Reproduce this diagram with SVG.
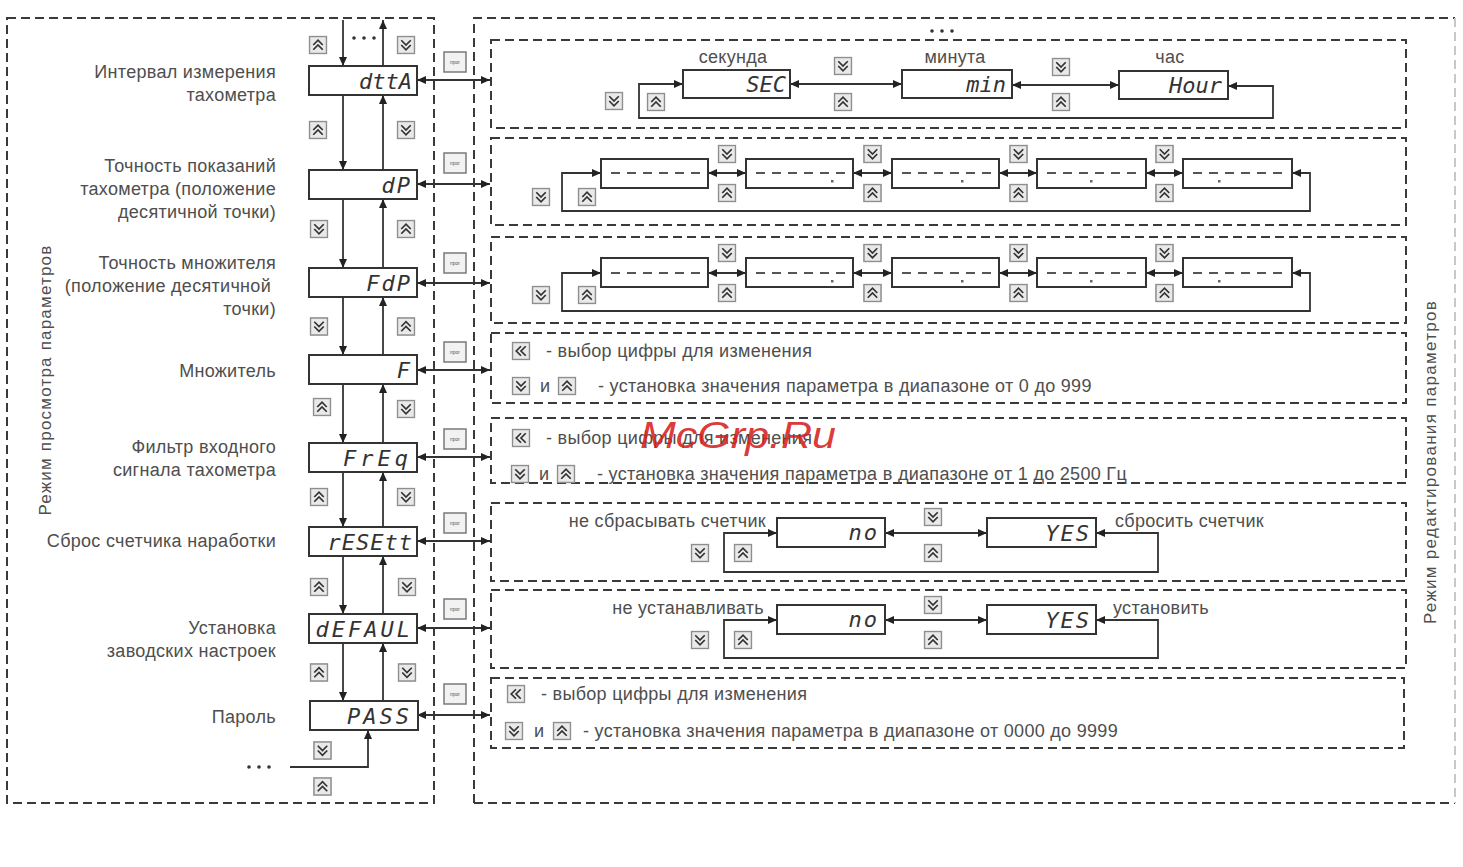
<svg xmlns="http://www.w3.org/2000/svg" xmlns:xlink="http://www.w3.org/1999/xlink" width="1463" height="867" viewBox="0 0 1463 867">
<style>
.bg{fill:#fff}
.dash{fill:none;stroke:#3a3a3a;stroke-width:2;stroke-dasharray:9 5}
.dashl{fill:none;stroke:#c8c8c8;stroke-width:2;stroke-dasharray:9 5}
.box{fill:#fff;stroke:#333;stroke-width:2}
.ln{fill:none;stroke:#333;stroke-width:1.8}
.lbl{font-family:"Liberation Sans",Arial,sans-serif;font-size:18px;letter-spacing:0.3px;fill:#4e4e4e}
.sm{font-family:"Liberation Sans",Arial,sans-serif;font-size:17px;fill:#4e4e4e}
.disp{font-family:"DejaVu Sans Mono","Liberation Mono",monospace;font-style:italic;font-size:22px;fill:#333;letter-spacing:2px}
.dd{fill:none;stroke:#555;stroke-width:2.2;stroke-dasharray:9 7}
.dot{fill:#666}
</style>
<defs>
<marker id="ah" viewBox="0 0 9 8" refX="9" refY="4" markerWidth="9" markerHeight="8" markerUnits="userSpaceOnUse" orient="auto-start-reverse"><path d="M0,0 L9,4 L0,8 z" fill="#222"/></marker>
<symbol id="up" viewBox="0 0 20 20"><rect x="1" y="1" width="18" height="18" fill="#e9e9e9" stroke="#8e8e8e" stroke-width="1.6"/><path d="M5 10 L10 5 L15 10 M5 15 L10 10 L15 15" fill="none" stroke="#333" stroke-width="1.8"/></symbol>
<symbol id="dn" viewBox="0 0 20 20"><rect x="1" y="1" width="18" height="18" fill="#e9e9e9" stroke="#8e8e8e" stroke-width="1.6"/><path d="M5 5 L10 10 L15 5 M5 10 L10 15 L15 10" fill="none" stroke="#333" stroke-width="1.8"/></symbol>
<symbol id="lt" viewBox="0 0 20 20"><rect x="1" y="1" width="18" height="18" fill="#e9e9e9" stroke="#8e8e8e" stroke-width="1.6"/><path d="M10 5 L5 10 L10 15 M15 5 L10 10 L15 15" fill="none" stroke="#333" stroke-width="1.8"/></symbol>
<symbol id="prog" viewBox="0 0 24 22"><rect x="1" y="1" width="22" height="20" fill="#f2f2f2" stroke="#7a7a7a" stroke-width="1.5"/><text x="12" y="13" text-anchor="middle" font-family="Liberation Sans,sans-serif" font-size="5" fill="#555">прог</text></symbol>
</defs>
<rect class="bg" width="1463" height="867"/>

<!-- frames -->
<g id="frames">
<rect class="dash" x="7" y="18" width="427" height="785"/>
<path class="dash" d="M474,803 V18 H1455"/>
<path class="dash" d="M474,803 H1455"/>
<path class="dashl" d="M1455,18 V803"/>
<rect class="dash" x="491" y="40" width="915" height="88"/>
<rect class="dash" x="491" y="138" width="915" height="87"/>
<rect class="dash" x="491" y="237" width="915" height="86"/>
<rect class="dash" x="491" y="333" width="915" height="70"/>
<rect class="dash" x="491" y="418" width="915" height="65"/>
<rect class="dash" x="491" y="503" width="915" height="78"/>
<rect class="dash" x="491" y="590" width="915" height="78"/>
<rect class="dash" x="491" y="678" width="913" height="70"/>
<text class="sm" transform="translate(51,380) rotate(-90)" text-anchor="middle" style="letter-spacing:1.2px">Режим просмотра параметров</text>
<text class="sm" transform="translate(1436,462) rotate(-90)" text-anchor="middle" style="letter-spacing:1.3px">Режим редактирования параметров</text>
<g fill="#333"><circle cx="354" cy="38" r="1.8"/><circle cx="364" cy="38" r="1.8"/><circle cx="374" cy="38" r="1.8"/><circle cx="932" cy="31" r="1.8"/><circle cx="942" cy="31" r="1.8"/><circle cx="952" cy="31" r="1.8"/><circle cx="249" cy="767" r="1.8"/><circle cx="259" cy="767" r="1.8"/><circle cx="269" cy="767" r="1.8"/></g>
</g>

<!-- connectors -->
<g id="connectors">
<g class="ln" marker-end="url(#ah)">
<path d="M343,20 V66"/><path d="M383,66 V20"/>
<path d="M343,95 V170"/><path d="M383,170 V95"/>
<path d="M343,199 V268"/><path d="M383,268 V199"/>
<path d="M343,297 V355"/><path d="M383,355 V297"/>
<path d="M343,384 V443"/><path d="M383,443 V384"/>
<path d="M343,472 V527"/><path d="M383,527 V472"/>
<path d="M343,556 V614"/><path d="M383,614 V556"/>
<path d="M343,643 V701"/><path d="M383,701 V643"/>
<path d="M290,767 H368 V730"/>
</g>
<g class="ln" marker-start="url(#ah)" marker-end="url(#ah)">
<path d="M417,80 H490"/><path d="M417,184 H490"/><path d="M417,283 H490"/><path d="M417,370 H490"/>
<path d="M417,457 H490"/><path d="M417,541 H490"/><path d="M417,628 H490"/><path d="M417,715 H490"/>
<path d="M790,84 H902"/><path d="M1012,85 H1119"/>
<path d="M683,84 H639 V118 H1273 V86 H1228"/>
<path d="M708,173 H746"/><path d="M853,173 H892"/><path d="M999,173 H1037"/><path d="M1146,173 H1183"/>
<path d="M601,173 H562 V211 H1310 V173 H1292"/>
<path d="M708,273 H746"/><path d="M853,273 H892"/><path d="M999,273 H1037"/><path d="M1146,273 H1183"/>
<path d="M601,273 H562 V311 H1310 V273 H1292"/>
<path d="M885,533 H987"/><path d="M777,533 H724 V572 H1158 V533 H1096"/>
<path d="M885,620 H987"/><path d="M777,620 H724 V658 H1158 V620 H1096"/>
</g>
</g>

<!-- left column nodes -->
<g id="n-dtta"><rect class="box" x="309" y="66" width="108" height="29"/><text class="disp" x="412" y="89" text-anchor="end" style="letter-spacing:0">dttA</text>
<text class="lbl" x="276" y="78" text-anchor="end">Интервал измерения</text><text class="lbl" x="276" y="101" text-anchor="end">тахометра</text></g>
<g id="n-dp"><rect class="box" x="309" y="170" width="108" height="29"/><text class="disp" x="412" y="193" text-anchor="end">dP</text>
<text class="lbl" x="276" y="172" text-anchor="end">Точность показаний</text><text class="lbl" x="276" y="195" text-anchor="end">тахометра (положение</text><text class="lbl" x="276" y="218" text-anchor="end">десятичной точки)</text></g>
<g id="n-fdp"><rect class="box" x="309" y="268" width="108" height="29"/><text class="disp" x="412" y="291" text-anchor="end">FdP</text>
<text class="lbl" x="276" y="269" text-anchor="end">Точность множителя</text><text class="lbl" x="271" y="292" text-anchor="end">(положение десятичной</text><text class="lbl" x="276" y="315" text-anchor="end">точки)</text></g>
<g id="n-f"><rect class="box" x="309" y="355" width="108" height="29"/><text class="disp" x="412" y="378" text-anchor="end">F</text>
<text class="lbl" x="276" y="377" text-anchor="end">Множитель</text></g>
<g id="n-freq"><rect class="box" x="309" y="443" width="108" height="29"/><text class="disp" x="412" y="466" text-anchor="end" style="letter-spacing:4px">FrEq</text>
<text class="lbl" x="276" y="453" text-anchor="end">Фильтр входного</text><text class="lbl" x="276" y="476" text-anchor="end">сигнала тахометра</text></g>
<g id="n-resett"><rect class="box" x="309" y="527" width="108" height="29"/><text class="disp" x="413" y="550" text-anchor="end" style="letter-spacing:1px">rESEtt</text>
<text class="lbl" x="276" y="547" text-anchor="end">Сброс счетчика наработки</text></g>
<g id="n-defaul"><rect class="box" x="309" y="614" width="108" height="29"/><text class="disp" x="413" y="637" text-anchor="end" style="letter-spacing:3px">dEFAUL</text>
<text class="lbl" x="276" y="634" text-anchor="end">Установка</text><text class="lbl" x="276" y="657" text-anchor="end">заводских настроек</text></g>
<g id="n-pass"><rect class="box" x="310" y="701" width="108" height="29"/><text class="disp" x="412" y="724" text-anchor="end" style="letter-spacing:3px">PASS</text>
<text class="lbl" x="276" y="723" text-anchor="end">Пароль</text></g>

<!-- left column buttons -->
<g id="left-buttons">
<use href="#up" x="308.5" y="35.5" width="19" height="19"/><use href="#dn" x="396.5" y="35.5" width="19" height="19"/>
<use href="#up" x="308.5" y="120.5" width="19" height="19"/><use href="#dn" x="396.5" y="120.5" width="19" height="19"/>
<use href="#dn" x="309.5" y="219.5" width="19" height="19"/><use href="#up" x="396.5" y="219.5" width="19" height="19"/>
<use href="#dn" x="309.5" y="317" width="19" height="19"/><use href="#up" x="396.5" y="317" width="19" height="19"/>
<use href="#up" x="312.5" y="397.5" width="19" height="19"/><use href="#dn" x="396.5" y="399.5" width="19" height="19"/>
<use href="#up" x="309.5" y="487.5" width="19" height="19"/><use href="#dn" x="396.5" y="487.5" width="19" height="19"/>
<use href="#up" x="309.5" y="577.5" width="19" height="19"/><use href="#dn" x="397.5" y="577.5" width="19" height="19"/>
<use href="#up" x="309.5" y="663" width="19" height="19"/><use href="#dn" x="397.5" y="663" width="19" height="19"/>
<use href="#dn" x="313" y="741" width="19" height="19"/><use href="#up" x="313" y="777" width="19" height="19"/>
</g>
<g id="prog-buttons">
<use href="#prog" x="443" y="51" width="24" height="22"/>
<use href="#prog" x="443" y="152" width="24" height="22"/>
<use href="#prog" x="443" y="252" width="24" height="22"/>
<use href="#prog" x="443" y="341" width="24" height="22"/>
<use href="#prog" x="443" y="428" width="24" height="22"/>
<use href="#prog" x="443" y="512" width="24" height="22"/>
<use href="#prog" x="443" y="598" width="24" height="22"/>
<use href="#prog" x="443" y="683" width="24" height="22"/>
</g>

<!-- row 1: time units -->
<g id="r1-sec"><rect class="box" x="683" y="70" width="107" height="28"/><text class="disp" x="786" y="92" text-anchor="end" style="letter-spacing:0">SEC</text><text class="lbl" x="733" y="63" text-anchor="middle">секунда</text></g>
<g id="r1-min"><rect class="box" x="902" y="70" width="110" height="28"/><text class="disp" x="1006" y="92" text-anchor="end" style="letter-spacing:0">min</text><text class="lbl" x="955" y="63" text-anchor="middle">минута</text></g>
<g id="r1-hour"><rect class="box" x="1119" y="71" width="109" height="28"/><text class="disp" x="1222" y="93" text-anchor="end" style="letter-spacing:0">Hour</text><text class="lbl" x="1170" y="63" text-anchor="middle">час</text></g>
<g id="r1-buttons">
<use href="#dn" x="604.5" y="91.5" width="19" height="19"/><use href="#up" x="646.5" y="92.5" width="19" height="19"/>
<use href="#dn" x="833.5" y="56.5" width="19" height="19"/><use href="#up" x="833.5" y="92.5" width="19" height="19"/>
<use href="#dn" x="1051.5" y="57.5" width="19" height="19"/><use href="#up" x="1051.5" y="92.5" width="19" height="19"/>
</g>

<!-- row 2: dP choices -->
<g id="r2">
<g id="r2-b1"><rect class="box" x="601" y="159" width="107" height="29"/><line class="dd" x1="611" y1="173" x2="700" y2="173"/></g>
<g id="r2-b2"><rect class="box" x="746" y="159" width="107" height="29"/><line class="dd" x1="756" y1="173" x2="845" y2="173"/><rect class="dot" x="831" y="180" width="2.5" height="2.5"/></g>
<g id="r2-b3"><rect class="box" x="892" y="159" width="107" height="29"/><line class="dd" x1="902" y1="173" x2="991" y2="173"/><rect class="dot" x="961" y="180" width="2.5" height="2.5"/></g>
<g id="r2-b4"><rect class="box" x="1037" y="159" width="109" height="29"/><line class="dd" x1="1047" y1="173" x2="1136" y2="173"/><rect class="dot" x="1090" y="180" width="2.5" height="2.5"/></g>
<g id="r2-b5"><rect class="box" x="1183" y="159" width="109" height="29"/><line class="dd" x1="1193" y1="173" x2="1282" y2="173"/><rect class="dot" x="1218" y="180" width="2.5" height="2.5"/></g>
<use href="#dn" x="531.5" y="187.5" width="19" height="19"/><use href="#up" x="577.5" y="187.5" width="19" height="19"/>
<use href="#dn" x="717.5" y="144.5" width="19" height="19"/><use href="#up" x="717.5" y="183.5" width="19" height="19"/>
<use href="#dn" x="863" y="144.5" width="19" height="19"/><use href="#up" x="863" y="183.5" width="19" height="19"/>
<use href="#dn" x="1009" y="144.5" width="19" height="19"/><use href="#up" x="1009" y="183.5" width="19" height="19"/>
<use href="#dn" x="1155" y="144.5" width="19" height="19"/><use href="#up" x="1155" y="183.5" width="19" height="19"/>
</g>

<!-- row 3: FdP choices -->
<g id="r3">
<g id="r3-b1"><rect class="box" x="601" y="258" width="107" height="29"/><line class="dd" x1="611" y1="273" x2="700" y2="273"/></g>
<g id="r3-b2"><rect class="box" x="746" y="258" width="107" height="29"/><line class="dd" x1="756" y1="273" x2="845" y2="273"/><rect class="dot" x="831" y="280" width="2.5" height="2.5"/></g>
<g id="r3-b3"><rect class="box" x="892" y="258" width="107" height="29"/><line class="dd" x1="902" y1="273" x2="991" y2="273"/><rect class="dot" x="961" y="280" width="2.5" height="2.5"/></g>
<g id="r3-b4"><rect class="box" x="1037" y="258" width="109" height="29"/><line class="dd" x1="1047" y1="273" x2="1136" y2="273"/><rect class="dot" x="1090" y="280" width="2.5" height="2.5"/></g>
<g id="r3-b5"><rect class="box" x="1183" y="258" width="109" height="29"/><line class="dd" x1="1193" y1="273" x2="1282" y2="273"/><rect class="dot" x="1218" y="280" width="2.5" height="2.5"/></g>
<use href="#dn" x="531.5" y="285.5" width="19" height="19"/><use href="#up" x="577.5" y="285.5" width="19" height="19"/>
<use href="#dn" x="717.5" y="243.5" width="19" height="19"/><use href="#up" x="717.5" y="283.5" width="19" height="19"/>
<use href="#dn" x="863" y="243.5" width="19" height="19"/><use href="#up" x="863" y="283.5" width="19" height="19"/>
<use href="#dn" x="1009" y="243.5" width="19" height="19"/><use href="#up" x="1009" y="283.5" width="19" height="19"/>
<use href="#dn" x="1155" y="243.5" width="19" height="19"/><use href="#up" x="1155" y="283.5" width="19" height="19"/>
</g>

<!-- row 4: F -->
<g id="r4">
<use href="#lt" x="511.5" y="341.5" width="19" height="19"/><text class="lbl" x="546" y="357">- выбор цифры для изменения</text>
<use href="#dn" x="511.5" y="376.5" width="19" height="19"/><text class="lbl" x="540" y="392">и</text><use href="#up" x="557.5" y="376.5" width="19" height="19"/>
<text class="lbl" x="598" y="392">- установка значения параметра в диапазоне от 0 до 999</text>
</g>
<!-- row 5: FrEq -->
<g id="r5">
<use href="#lt" x="511.5" y="428.5" width="19" height="19"/><text class="lbl" x="546" y="444">- выбор цифры для изменения</text>
<use href="#dn" x="510.5" y="464.5" width="19" height="19"/><text class="lbl" x="539" y="480">и</text><use href="#up" x="556.5" y="464.5" width="19" height="19"/>
<text class="lbl" x="597" y="480">- установка значения параметра в диапазоне от 1 до 2500 Гц</text>
</g>

<!-- row 6: reset -->
<g id="r6">
<g id="r6-no"><rect class="box" x="777" y="518" width="108" height="29"/><text class="disp" x="879" y="540" text-anchor="end">no</text></g>
<g id="r6-yes"><rect class="box" x="987" y="518" width="109" height="29"/><text class="disp" x="1091" y="541" text-anchor="end">YES</text></g>
<text class="lbl" x="766" y="527" text-anchor="end">не сбрасывать счетчик</text>
<text class="lbl" x="1115" y="527">сбросить счетчик</text>
<use href="#dn" x="690.5" y="543.5" width="19" height="19"/><use href="#up" x="733.5" y="543.5" width="19" height="19"/>
<use href="#dn" x="923.5" y="507.5" width="19" height="19"/><use href="#up" x="923.5" y="543.5" width="19" height="19"/>
</g>
<!-- row 7: defaults -->
<g id="r7">
<g id="r7-no"><rect class="box" x="777" y="605" width="108" height="29"/><text class="disp" x="879" y="627" text-anchor="end">no</text></g>
<g id="r7-yes"><rect class="box" x="987" y="605" width="109" height="29"/><text class="disp" x="1091" y="628" text-anchor="end">YES</text></g>
<text class="lbl" x="764" y="614" text-anchor="end">не устанавливать</text>
<text class="lbl" x="1113" y="614">установить</text>
<use href="#dn" x="690.5" y="630.5" width="19" height="19"/><use href="#up" x="733.5" y="630.5" width="19" height="19"/>
<use href="#dn" x="923.5" y="595.5" width="19" height="19"/><use href="#up" x="923.5" y="630.5" width="19" height="19"/>
</g>
<!-- row 8: PASS -->
<g id="r8">
<use href="#lt" x="506.5" y="684.5" width="19" height="19"/><text class="lbl" x="541" y="700">- выбор цифры для изменения</text>
<use href="#dn" x="504.5" y="721.5" width="19" height="19"/><text class="lbl" x="534" y="737">и</text><use href="#up" x="552.5" y="721.5" width="19" height="19"/>
<text class="lbl" x="583" y="737">- установка значения параметра в диапазоне  от 0000 до 9999</text>
</g>

<text x="640" y="448" font-family="Liberation Sans,Arial,sans-serif" font-style="italic" font-size="36" fill="#d82020" fill-opacity="0.9" textLength="196" lengthAdjust="spacingAndGlyphs">McGrp.Ru</text>
</svg>
